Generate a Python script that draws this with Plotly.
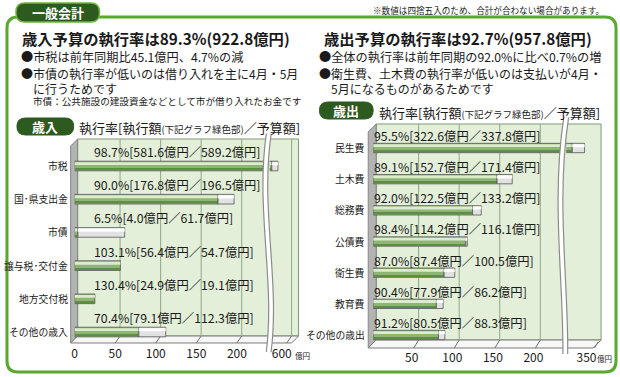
import plotly.graph_objects as go

W, H = 620, 377
FONT = "Noto Sans CJK JP"

# ---------------- data ----------------
rev_cats = ["市税", "国･県支出金", "市債", "譲与税･交付金", "地方交付税", "その他の歳入"]
rev_exec = [581.6, 176.8, 4.0, 56.4, 24.9, 79.1]
rev_budget = [589.2, 196.5, 61.7, 54.7, 19.1, 112.3]
rev_rate = [98.7, 90.0, 6.5, 103.1, 130.4, 70.4]

exp_cats = ["民生費", "土木費", "総務費", "公債費", "衛生費", "教育費", "その他の歳出"]
exp_exec = [322.6, 152.7, 122.5, 114.2, 87.4, 77.9, 80.5]
exp_budget = [337.8, 171.4, 133.2, 116.1, 100.5, 86.2, 88.3]
exp_rate = [95.5, 89.1, 92.0, 98.4, 87.0, 90.4, 91.2]

rev_ticks_low = [0, 50, 100, 150, 200]
rev_ticks_high = [600]
exp_ticks_low = [50, 100, 150, 200]
exp_ticks_high = [350]

# ---------------- styles ----------------
GREEN = "#8cb672"
GREEN_HI = "#dcebd0"
GREEN_LO = "#5f8c47"
GRAY = "#e2e2e2"
GRAY_HI = "#fdfdfd"
OUTLINE = "#555555"
FRAME = "#5aa82e"
DARK = "#2c5a1f"
WALL = "#e3efd8"
GRID = "#8fa886"


def px(x):
    return x / W


def py(y):
    return 1 - y / H


def path(points, close=True):
    s = "M " + " L ".join(f"{px(x):.5f},{py(y):.5f}" for x, y in points)
    return s + (" Z" if close else "")


def rrect(x0, y0, x1, y1, r):
    P = lambda x, y: f"{px(x):.5f},{py(y):.5f}"
    return (f"M {P(x0 + r, y0)} L {P(x1 - r, y0)} Q {P(x1, y0)} {P(x1, y0 + r)} "
            f"L {P(x1, y1 - r)} Q {P(x1, y1)} {P(x1 - r, y1)} L {P(x0 + r, y1)} "
            f"Q {P(x0, y1)} {P(x0, y1 - r)} L {P(x0, y0 + r)} Q {P(x0, y0)} {P(x0 + r, y0)} Z")


def curve(x0, y0, c1, c2, x1, y1):
    P = lambda x, y: f"{px(x):.5f},{py(y):.5f}"
    return f"M {P(x0, y0)} C {P(*c1)} {P(*c2)} {P(x1, y1)}"


fig = go.Figure()


def add_bars(cats, ex, bud, xaxes, yaxis, w):
    rest = [b - e if b > e else None for e, b in zip(ex, bud)]
    for xa in xaxes:
        common = dict(y=cats, orientation="h", xaxis=xa, yaxis=yaxis, hoverinfo="skip")
        fig.add_bar(x=ex, base=0, width=w, offset=-w / 2,
                    marker=dict(color=GREEN, line=dict(color=OUTLINE, width=0.8)), **common)
        fig.add_bar(x=ex, base=0, width=w * 0.30, offset=-w * 0.40,
                    marker=dict(color=GREEN_HI, line=dict(width=0)), **common)
        fig.add_bar(x=ex, base=0, width=w * 0.16, offset=w * 0.27,
                    marker=dict(color=GREEN_LO, line=dict(width=0)), **common)
        fig.add_bar(x=rest, base=ex, width=w, offset=-w / 2,
                    marker=dict(color=GRAY, line=dict(color=OUTLINE, width=0.8)), **common)
        fig.add_bar(x=rest, base=ex, width=w * 0.32, offset=-w * 0.40,
                    marker=dict(color=GRAY_HI, line=dict(width=0)), **common)


add_bars(rev_cats, rev_exec, rev_budget, ["x", "x2"], "y", 0.29)
add_bars(exp_cats, exp_exec, exp_budget, ["x3", "x4"], "y2", 0.30)

tickfont = dict(family=FONT, size=12, color="#1a1a1a")
xcommon = dict(showgrid=False, zeroline=False, showline=False, ticks="", tickfont=tickfont,
               fixedrange=True, ticklabelstandoff=2)
ycommon = dict(type="category", categoryorder="array", showgrid=False, zeroline=False,
               showline=False, ticks="", showticklabels=False, fixedrange=True)

fig.update_layout(
    width=W, height=H, margin=dict(l=0, r=0, t=0, b=0),
    paper_bgcolor="white", plot_bgcolor="rgba(0,0,0,0)",
    barmode="overlay", showlegend=False,
    font=dict(family=FONT, color="#1a1a1a"),
    xaxis=dict(domain=[px(72), px(265)], anchor="y", range=[0, 236.8],
               tickvals=rev_ticks_low, **xcommon),
    xaxis2=dict(domain=[px(268), px(294)], anchor="y", range=[579, 610.9],
                tickvals=rev_ticks_high, ticklabelshift=-5, **xcommon),
    xaxis3=dict(domain=[px(372), px(562)], anchor="y2", range=[0, 233.1],
                tickvals=exp_ticks_low, ticklabelshift=-2, **xcommon),
    xaxis4=dict(domain=[px(566), px(598)], anchor="y2", range=[315.2, 354.5],
                tickvals=exp_ticks_high, ticklabelshift=-8, **xcommon),
    yaxis=dict(domain=[py(343), py(140)], anchor="x", categoryarray=rev_cats,
               range=[5.33, -0.783], **ycommon),
    yaxis2=dict(domain=[py(347), py(125)], anchor="x3", categoryarray=exp_cats,
                range=[6.385, -0.738], **ycommon),
)

shapes = []
# outer frame
shapes.append(dict(type="path", xref="paper", yref="paper", path=rrect(4, 17, 616, 372, 11),
                   line=dict(color=FRAME, width=3), fillcolor="rgba(0,0,0,0)", layer="below"))
# tab
shapes.append(dict(type="path", xref="paper", yref="paper", path=rrect(13, 3, 97, 22, 9),
                   line=dict(color="#6fb544", width=1.5), fillcolor=DARK, layer="above"))
# pills
shapes.append(dict(type="path", xref="paper", yref="paper", path=rrect(14, 118, 71, 135, 8.5),
                   line=dict(color=DARK, width=1), fillcolor=DARK, layer="above"))
shapes.append(dict(type="path", xref="paper", yref="paper", path=rrect(318, 102, 372, 119, 8.5),
                   line=dict(color=DARK, width=1), fillcolor=DARK, layer="above"))

# 3D chart boxes (decoration)
for (lx, top, right, bot, d) in [(68, 139, 297, 336, 7), (367, 124, 601, 340, 8)]:
    shapes.append(dict(type="path", xref="paper", yref="paper",
                       path=path([(lx + d, top), (right, top), (right, bot), (lx + d, bot)]),
                       fillcolor=WALL, line=dict(color="#7f9a74", width=1), layer="below"))
    shapes.append(dict(type="path", xref="paper", yref="paper",
                       path=path([(lx, top + d), (lx + d, top), (lx + d, bot), (lx, bot + d)]),
                       fillcolor="#b3b3b3", line=dict(color="#858585", width=1), layer="below"))
    shapes.append(dict(type="path", xref="paper", yref="paper",
                       path=path([(lx, bot + d), (lx + d, bot), (right, bot), (right - d, bot + d)]),
                       fillcolor="#f7f7f7", line=dict(color="#7a7a7a", width=1), layer="below"))

# gridlines on back wall and slanted floor ticks
OFF = 6
for xa, ticks, top, bot, d in [("x", rev_ticks_low[1:], 139, 336, 7), ("x2", rev_ticks_high, 139, 336, 7),
                               ("x3", exp_ticks_low, 124, 340, 8), ("x4", exp_ticks_high, 124, 340, 8)]:
    for t in ticks:
        shapes.append(dict(type="line", xref=xa, yref="paper", x0=t + OFF, x1=t + OFF,
                           y0=py(bot), y1=py(top), line=dict(color=GRID, width=1), layer="below"))
        shapes.append(dict(type="line", xref=xa, yref="paper", x0=t, x1=t + OFF,
                           y0=py(bot + d), y1=py(bot), line=dict(color="#6f6f6f", width=1), layer="below"))

# axis breaks
for p in [curve(267, 134, (256, 210), (276, 280), 267, 352),
          curve(566, 117, (553, 200), (566, 285), 565, 354)]:
    shapes.append(dict(type="path", xref="paper", yref="paper", path=p,
                       line=dict(color="#8c8c8c", width=6), layer="above"))
    shapes.append(dict(type="path", xref="paper", yref="paper", path=p,
                       line=dict(color="white", width=3.6), layer="above"))

fig.update_layout(shapes=shapes)

ann = []


def text(x, y, s, size, color="#1a1a1a", anchor="left", weight="normal"):
    ann.append(dict(x=px(x), y=py(y), xref="paper", yref="paper", text=s, showarrow=False,
                    xanchor=anchor, yanchor="middle", borderpad=0,
                    font=dict(family=FONT, size=size, color=color, weight=weight)))


text(55, 12.5, "一般会計", 13, "white", "center", "bold")
text(605, 10, "※数値は四捨五入のため、合計が合わない場合があります。", 8.6, anchor="right")

text(18, 38, "歳入予算の執行率は89.3%(922.8億円)", 15.3, weight="bold")
text(17, 57, "●市税は前年同期比45.1億円、4.7%の減", 12.2)
text(17, 73, "●市債の執行率が低いのは借り入れを主に4月・5月", 12.0)
text(29, 88, "に行うためです", 12.0)
text(29, 101, "市債：公共施設の建設資金などとして市が借り入れたお金です", 9.6)

text(322, 38, "歳出予算の執行率は92.7%(957.8億円)", 15.3, weight="bold")
text(317, 57, "●全体の執行率は前年同期の92.0%に比べ0.7%の増", 12.2)
text(317, 73, "●衛生費、土木費の執行率が低いのは支払いが4月・", 12.0)
text(329, 88, "5月になるものがあるためです", 12.0)

text(42.5, 126.5, "歳入", 13, "white", "center", "bold")
text(345, 110.5, "歳出", 13, "white", "center", "bold")
sub = "執行率[執行額<span style='font-size:9.5px'>(下記グラフ緑色部)</span>／予算額]"
text(75, 128, sub, 13)
text(377, 112, sub, 13)

text(292, 355, "億円", 7.5)
text(596, 358, "億円", 7.5)

# category labels
for i, c in enumerate(rev_cats):
    ann.append(dict(x=px(67), y=i, xref="paper", yref="y", xanchor="right", yanchor="middle",
                    showarrow=False, text=c, font=dict(family=FONT, size=9.8, color="#1a1a1a")))
for i, c in enumerate(exp_cats):
    ann.append(dict(x=px(366), y=i, xref="paper", yref="y2", xanchor="right", yanchor="middle",
                    showarrow=False, text=c, font=dict(family=FONT, size=9.8, color="#1a1a1a")))

# value labels above bars
for i, (r, e, b) in enumerate(zip(rev_rate, rev_exec, rev_budget)):
    ann.append(dict(x=21.5, y=i - 0.42, xref="x", yref="y", xanchor="left", yanchor="middle",
                    showarrow=False, text=f"{r:.1f}%[{e:.1f}億円／{b:.1f}億円]",
                    font=dict(family=FONT, size=12.3, color="#1a1a1a")))
for i, (r, e, b) in enumerate(zip(exp_rate, exp_exec, exp_budget)):
    ann.append(dict(x=0.5, xshift=-2, y=i - 0.39, xref="x3", yref="y2", xanchor="left",
                    yanchor="middle", showarrow=False,
                    text=f"{r:.1f}%[{e:.1f}億円／{b:.1f}億円]",
                    font=dict(family=FONT, size=12.3, color="#1a1a1a")))

fig.update_layout(annotations=ann)
fig.write_html("out.html")
